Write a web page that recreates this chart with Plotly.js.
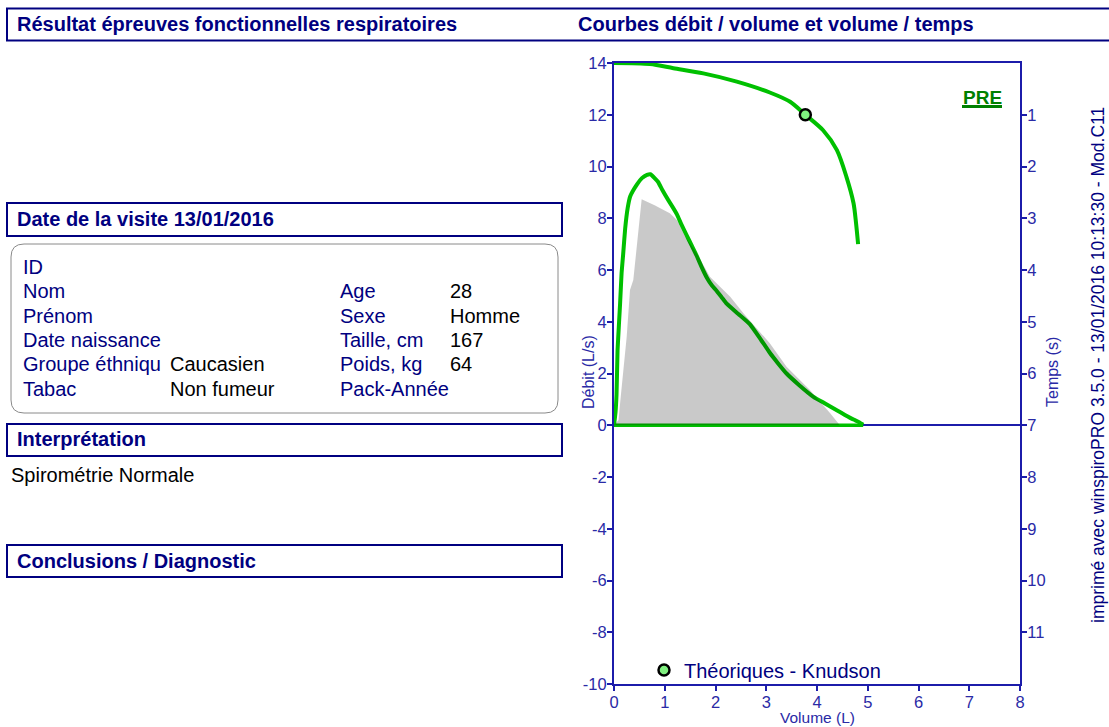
<!DOCTYPE html>
<html>
<head>
<meta charset="utf-8">
<script src="https://cdn.plot.ly/plotly-3.0.1.min.js"></script>
<style>
html,body{margin:0;padding:0;background:#fff;}
#chart{width:1109px;height:727px;}
</style>
</head>
<body>
<div id="chart"></div>
<script>
// ---- Data ----
// Measured flow/volume curve (PRE), expiratory part
const fvVolume = [0, 0.03, 0.05, 0.07, 0.10, 0.12, 0.15, 0.18, 0.22, 0.27, 0.32, 0.45, 0.55, 0.65, 0.72, 0.80, 0.87, 0.95, 1.07, 1.15, 1.24, 1.33, 1.43, 1.53, 1.63, 1.73, 1.83, 1.93, 2.02, 2.12, 2.22, 2.45, 2.68, 2.88, 3.07, 3.23, 3.40, 3.65, 3.93, 4.15, 4.39, 4.55, 4.72, 4.82, 4.91];
const fvFlow   = [0, 0.5, 1.2, 2.9, 4.0, 4.7, 5.9, 6.6, 7.6, 8.4, 8.85, 9.3, 9.55, 9.68, 9.7, 9.55, 9.4, 9.1, 8.7, 8.45, 8.15, 7.75, 7.35, 6.95, 6.55, 6.1, 5.7, 5.4, 5.2, 4.95, 4.7, 4.3, 3.9, 3.35, 2.8, 2.4, 2.0, 1.55, 1.1, 0.85, 0.58, 0.4, 0.22, 0.13, 0.02];
// Return of the loop along zero flow
const fvReturnVolume = [4.91, 0];
const fvReturnFlow   = [0, 0];

// Predicted (Knudson) flow/volume area
const predVolume = [0, 0.09, 0.12, 0.18, 0.25, 0.315, 0.38, 0.545, 0.8, 1.1, 1.24, 1.40, 1.63, 1.89, 2.29, 2.55, 3.07, 3.40, 3.86, 4.26, 4.45];
const predFlow   = [0, 0.2, 0.85, 2.13, 3.42, 5.23, 5.61, 8.73, 8.5, 8.19, 7.93, 7.29, 6.65, 5.74, 4.97, 4.33, 3.17, 2.26, 1.36, 0.46, 0];

// Volume / time curve
const vtTime   = [0, 0.02, 0.1, 0.2, 0.36, 0.57, 0.75, 1.0, 1.3, 1.68, 2.2, 2.71, 3.1, 3.5];
const vtVolume = [0, 0.71, 1.17, 1.76, 2.42, 3.07, 3.47, 3.77, 4.12, 4.39, 4.58, 4.72, 4.77, 4.81];

// FEV1 marker (volume at 1 s)
const fev1Volume = [3.77];
const fev1Time = [1];

// Axis ticks
const xTicks = [0, 1, 2, 3, 4, 5, 6, 7, 8];
const yTicks = [-10, -8, -6, -4, -2, 0, 2, 4, 6, 8, 10, 12, 14];
const tTicks = [1, 2, 3, 4, 5, 6, 7, 8, 9, 10, 11];

// Patient panel text
const infoLabelsLeft  = ["ID", "Nom", "Prénom", "Date naissance", "Groupe éthniqu", "Tabac"];
const infoValuesLeft  = ["", "", "", "", "Caucasien", "Non fumeur"];
const infoLabelsRight = ["", "Age", "Sexe", "Taille, cm", "Poids, kg", "Pack-Année"];
const infoValuesRight = ["", "28", "Homme", "167", "64", ""];

// ---- Layout helpers (pixel -> paper) ----
const PL = 614, PR = 1020, PT = 63, PB = 684;
const W = PR - PL, H = PB - PT;
const fx = p => (p - PL) / W;
const fy = p => (PB - p) / H;

const NAVY = '#000080';
const AXIS = '#1c1caa';
const TICK = '#2a2aa6';
const GREEN = '#00c000';
const FONT = 'Liberation Sans, Arial, Helvetica, sans-serif';

function rectShape(x0, y0, x1, y1, color, width) {
  return {type: 'rect', xref: 'paper', yref: 'paper', x0: fx(x0), x1: fx(x1), y0: fy(y1), y1: fy(y0),
          line: {color: color, width: width}, fillcolor: 'rgba(0,0,0,0)', layer: 'above'};
}
function roundRectPath(x0, y0, x1, y1, r) {
  const P = (x, y) => fx(x) + ',' + fy(y);
  return 'M ' + P(x0 + r, y0) + ' L ' + P(x1 - r, y0) + ' Q ' + P(x1, y0) + ' ' + P(x1, y0 + r) +
         ' L ' + P(x1, y1 - r) + ' Q ' + P(x1, y1) + ' ' + P(x1 - r, y1) +
         ' L ' + P(x0 + r, y1) + ' Q ' + P(x0, y1) + ' ' + P(x0, y1 - r) +
         ' L ' + P(x0, y0 + r) + ' Q ' + P(x0, y0) + ' ' + P(x0 + r, y0) + ' Z';
}
function textAnn(text, x, y, opts) {
  opts = opts || {};
  return Object.assign({
    text: text, xref: 'paper', yref: 'paper', x: fx(x), y: fy(y),
    xanchor: 'left', yanchor: 'middle', showarrow: false,
    font: {family: FONT, size: opts.size || 20, color: opts.color || NAVY}
  }, opts.extra || {});
}

// ---- Traces ----
const traces = [
  {
    x: fvVolume, y: fvFlow, xaxis: 'x', yaxis: 'y', mode: 'lines',
    line: {color: GREEN, width: 4, shape: 'spline', smoothing: 0.4}, showlegend: false, hoverinfo: 'skip'
  },
  {
    x: fvReturnVolume, y: fvReturnFlow, xaxis: 'x', yaxis: 'y', mode: 'lines',
    line: {color: GREEN, width: 3.5}, showlegend: false, hoverinfo: 'skip'
  },
  {
    x: vtVolume, y: vtTime, xaxis: 'x', yaxis: 'y2', mode: 'lines',
    line: {color: GREEN, width: 4, shape: 'spline', smoothing: 0.8}, showlegend: false, hoverinfo: 'skip'
  },
  {
    x: predVolume, y: predFlow, xaxis: 'x', yaxis: 'y', mode: 'lines',
    fill: 'toself', fillcolor: 'rgba(0,0,0,0.21)', line: {width: 0, color: 'rgba(0,0,0,0)'},
    showlegend: false, hoverinfo: 'skip'
  },
  {
    x: fev1Volume, y: fev1Time, xaxis: 'x', yaxis: 'y2', mode: 'markers',
    marker: {symbol: 'circle', size: 11, color: '#80f080', line: {color: '#000000', width: 2.5}},
    name: 'Théoriques - Knudson', showlegend: true, hoverinfo: 'skip'
  }
];

// ---- Annotations ----
const annotations = [
  textAnn('<b>Résultat épreuves fonctionnelles respiratoires</b>', 15, 24),
  textAnn('<b>Courbes débit / volume et volume / temps</b>', 576, 24),
  textAnn('<b>Date de la visite 13/01/2016</b>', 15, 219),
  textAnn('<b>Interprétation</b>', 15, 439),
  textAnn('Spirométrie Normale', 9, 475, {color: '#000000'}),
  textAnn('<b>Conclusions / Diagnostic</b>', 15, 561),
  textAnn('<b>PRE</b>', 982, 97, {color: '#008000', size: 19, extra: {xanchor: 'center'}}),
  {
    text: 'imprimé avec winspiroPRO 3.5.0 - 13/01/2016 10:13:30 - Mod.C11',
    xref: 'paper', yref: 'paper', x: fx(1109), y: fy(365), textangle: -90,
    xanchor: 'right', yanchor: 'middle', showarrow: false, borderpad: 0,
    font: {family: FONT, size: 17.5, color: NAVY}
  },
  // axis titles
  {
    text: 'Débit (L/s)', xref: 'paper', yref: 'paper', x: fx(588), y: fy(372), textangle: -90,
    xanchor: 'center', yanchor: 'middle', showarrow: false,
    font: {family: FONT, size: 16, color: TICK}
  },
  {
    text: 'Temps (s)', xref: 'paper', yref: 'paper', x: fx(1052), y: fy(372), textangle: -90,
    xanchor: 'center', yanchor: 'middle', showarrow: false,
    font: {family: FONT, size: 16, color: TICK}
  },
  {
    text: 'Volume (L)', xref: 'paper', yref: 'paper', x: fx(817), y: fy(727),
    xanchor: 'center', yanchor: 'bottom', showarrow: false, borderpad: 0,
    font: {family: FONT, size: 15.5, color: TICK}
  }
];
const rowY = [267, 291, 316, 340, 364, 389];
for (let i = 0; i < rowY.length; i++) {
  if (infoLabelsLeft[i]) annotations.push(textAnn(infoLabelsLeft[i], 21, rowY[i]));
  if (infoValuesLeft[i]) annotations.push(textAnn(infoValuesLeft[i], 168, rowY[i], {color: '#000000'}));
  if (infoLabelsRight[i]) annotations.push(textAnn(infoLabelsRight[i], 338, rowY[i]));
  if (infoValuesRight[i]) annotations.push(textAnn(infoValuesRight[i], 448, rowY[i], {color: '#000000'}));
}

// ---- Shapes ----
const shapes = [
  rectShape(7, 8.5, 1120, 40.5, NAVY, 2),
  rectShape(7, 203, 562, 236, NAVY, 2),
  {type: 'path', xref: 'paper', yref: 'paper', path: roundRectPath(11, 244, 558, 413, 13),
   line: {color: '#8a8a8a', width: 1}, fillcolor: 'rgba(0,0,0,0)'},
  rectShape(7, 424, 562, 456, NAVY, 2),
  rectShape(7, 545, 562, 577, NAVY, 2),
  {type: 'line', xref: 'paper', yref: 'paper', x0: fx(962), x1: fx(1002), y0: fy(106.5), y1: fy(106.5),
   line: {color: '#008000', width: 3}}
];

const layout = {
  width: 1109, height: 727, autosize: false,
  margin: {l: PL, r: 1109 - PR, t: PT, b: 727 - PB, pad: 0},
  paper_bgcolor: '#ffffff', plot_bgcolor: '#ffffff',
  font: {family: FONT, color: NAVY},
  showlegend: true,
  legend: {
    x: fx(644), y: fy(670), xanchor: 'left', yanchor: 'middle',
    bgcolor: 'rgba(0,0,0,0)', borderwidth: 0,
    font: {family: FONT, size: 20, color: NAVY}
  },
  xaxis: {
    range: [0, 8], tickvals: xTicks, ticktext: xTicks.map(String),
    showline: true, linecolor: AXIS, linewidth: 2, mirror: true,
    ticks: 'outside', ticklen: 5, tickwidth: 2, tickcolor: AXIS, ticklabelstandoff: -3,
    showgrid: false, zeroline: false,
    tickfont: {family: FONT, size: 16.5, color: TICK}
  },
  yaxis: {
    range: [-10, 14], tickvals: yTicks, ticktext: yTicks.map(String),
    showline: true, linecolor: AXIS, linewidth: 2,
    ticks: 'outside', ticklen: 5, tickwidth: 2, tickcolor: AXIS, ticklabelstandoff: -3,
    showgrid: false, zeroline: true, zerolinecolor: AXIS, zerolinewidth: 2,
    tickfont: {family: FONT, size: 16.5, color: TICK}
  },
  yaxis2: {
    overlaying: 'y', side: 'right', range: [12, 0], tickvals: tTicks, ticktext: tTicks.map(String),
    showline: true, linecolor: AXIS, linewidth: 2,
    ticks: 'outside', ticklen: 5, tickwidth: 2, tickcolor: AXIS, ticklabelstandoff: -3,
    showgrid: false, zeroline: false,
    tickfont: {family: FONT, size: 16.5, color: TICK}
  },
  shapes: shapes,
  annotations: annotations
};

Plotly.newPlot('chart', traces, layout, {displayModeBar: false, staticPlot: true});
</script>
</body>
</html>
